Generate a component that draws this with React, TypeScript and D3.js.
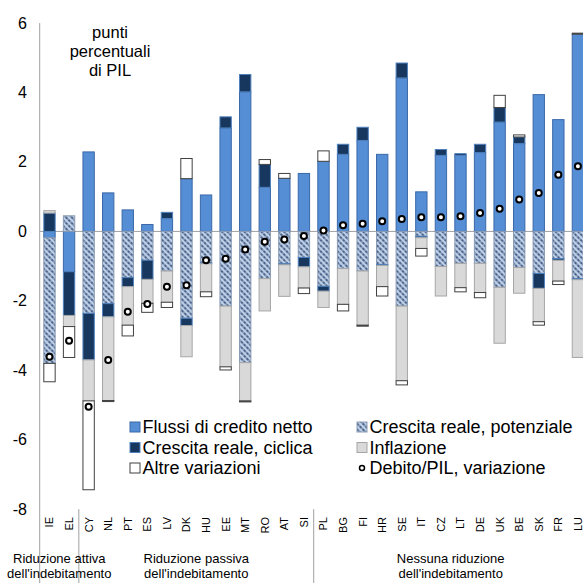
import React from "react";
import * as d3 from "d3";

const countries = ["IE","EL","CY","NL","PT","ES","LV","DK","HU","EE","MT","RO","AT","SI","PL","BG","FI","HR","SE","IT","CZ","LT","DE","UK","BE","SK","FR","LU"];
const flussi =     [-0.18,-1.16, 2.29, 1.11, 0.62, 0.20, 0.37, 1.52, 1.05, 2.98, 4.02, 1.27, 1.53, 1.67, 2.02, 2.22, 2.62, 2.22, 4.42, 1.14, 2.19, 2.19, 2.27, 3.15, 2.53, 3.94, 3.22, 5.68];
const potenziale = [-3.62, 0.45,-2.36,-2.08,-1.33,-0.83,-1.14,-2.50,-0.90,-2.15,-3.78,-1.36,-0.93,-0.75,-1.58,-1.07,-1.14,-0.95,-2.15,-0.14,-1.01,-0.92,-0.92,-1.61,-1.04,-1.21,-0.78,-1.36];
const ciclica =    [ 0.53,-1.26,-1.34,-0.38,-0.26,-0.55, 0.18,-0.21,-0.03, 0.32, 0.50, 0.66,-0.03,-0.27,-0.14, 0.29, 0.38,-0.03, 0.43,-0.04, 0.17, 0.05, 0.24, 0.42, 0.19,-0.43,-0.05,-0.03];
const inflazione = [ 0.07,-0.32,-1.18,-2.41,-1.11,-0.69,-0.90,-0.90,-0.81,-1.75,-1.10,-0.93,-0.91,-0.61,-0.47,-1.03,-1.56,-0.61,-2.15,-0.31,-0.85,-0.70,-0.84,-1.61,-0.74,-0.96,-0.60,-2.24];
const altre =      [-0.53,-0.89,-2.56,-0.03,-0.31,-0.26,-0.15, 0.58,-0.14,-0.09,-0.03, 0.14, 0.14,-0.16, 0.30,-0.19,-0.03,-0.27,-0.12,-0.22, 0.00,-0.12,-0.15, 0.35, 0.06,-0.10,-0.10, 0.03];
const debito =     [-3.61,-3.15,-5.05,-3.70,-2.31,-2.09,-1.59,-1.55,-0.83,-0.79,-0.52,-0.30,-0.23,-0.13, 0.03, 0.18, 0.22, 0.29, 0.36, 0.41, 0.41, 0.44, 0.53, 0.65, 0.92, 1.11, 1.63, 1.88];

const yTicks = [6, 4, 2, 0, -2, -4, -6, -8];
const groups = [
  { from: "IE", to: "EL", lines: ["Riduzione attiva", "dell'indebitamento"] },
  { from: "CY", to: "SI", lines: ["Riduzione passiva", "dell'indebitamento"] },
  { from: "PL", to: "LU", lines: ["Nessuna riduzione", "dell'indebitamento"] },
];
const seriesKeys = ["flussi", "potenziale", "ciclica", "inflazione", "altre"];
const legendLabels = {
  flussi: "Flussi di credito netto",
  potenziale: "Crescita reale, potenziale",
  ciclica: "Crescita reale, ciclica",
  inflazione: "Inflazione",
  altre: "Altre variazioni",
  debito: "Debito/PIL, variazione",
};
const unitLines = ["punti", "percentuali", "di PIL"];

const styles: Record<string, { fill: string; stroke: string }> = {
  flussi: { fill: "#558ED5", stroke: "#3A68A8" },
  potenziale: { fill: "url(#hatch)", stroke: "#8A9BB3" },
  ciclica: { fill: "#17375E", stroke: "#4F81BD" },
  inflazione: { fill: "#D9D9D9", stroke: "#A6A6A6" },
  altre: { fill: "#FFFFFF", stroke: "#404040" },
};

const W = 583, H = 583;
const FONT = "'Liberation Sans', Arial, sans-serif";

export default function App() {
  const rows = countries.map((c, i) => ({
    country: c,
    flussi: flussi[i],
    potenziale: potenziale[i],
    ciclica: ciclica[i],
    inflazione: inflazione[i],
    altre: altre[i],
  }));
  const x = d3.scaleBand().domain(countries).range([39.7, 587.7]).paddingInner(0.42).paddingOuter(0.21);
  const y = d3.scaleLinear().domain([-8, 6]).range([509.2, 23.1]);
  const stacked = d3.stack<any>().keys(seriesKeys).offset(d3.stackOffsetDiverging)(rows);
  const bw = x.bandwidth();
  const cx = (c: string) => (x(c) as number) + bw / 2;
  const step = x.step();

  const legendItems = [
    { key: "flussi", lx: 130, ly: 427 },
    { key: "potenziale", lx: 357, ly: 427 },
    { key: "ciclica", lx: 130, ly: 447.5 },
    { key: "inflazione", lx: 357, ly: 447.5 },
    { key: "altre", lx: 130, ly: 468 },
    { key: "debito", lx: 357, ly: 468 },
  ];

  return (
    <svg width={W} height={H} style={{ position: "absolute", left: 0, top: 0, background: "#fff" }} fontFamily={FONT}>
      <defs>
        <pattern id="hatch" width="4" height="4" patternUnits="userSpaceOnUse" patternTransform="rotate(-45)">
          <rect width="4" height="4" fill="#BED0E8" />
          <line x1="1" y1="0" x2="1" y2="4" stroke="#1F3864" strokeWidth="1.4" strokeDasharray="2.5 1" />
        </pattern>
      </defs>

      {/* axes */}
      <line x1={39.7} x2={39.7} y1={y(6)} y2={H} stroke="#A0A0A0" strokeWidth={1} />
      <line x1={39.7} x2={W} y1={y(0)} y2={y(0)} stroke="#A0A0A0" strokeWidth={1} />
      {[1.5, 13.5].map((k) => (
        <line key={k} x1={cx(countries[0]) + k * step} x2={cx(countries[0]) + k * step} y1={y(-8)} y2={H} stroke="#A0A0A0" strokeWidth={1} />
      ))}

      {/* y tick labels */}
      {yTicks.map((t) => (
        <text key={t} x={27} y={y(t)} textAnchor="end" dominantBaseline="central" fontSize={16} fill="#000">
          {t}
        </text>
      ))}

      {/* bars */}
      {stacked.map((s) => (
        <g key={s.key}>
          {s.map((d: any, i: number) => {
            const y0 = y(d[0]);
            const y1 = y(d[1]);
            const top = Math.min(y0, y1);
            const h = Math.abs(y1 - y0);
            if (h < 0.01) return null;
            return (
              <rect
                key={i}
                x={x(countries[i]) as number}
                y={top}
                width={bw}
                height={h}
                fill={styles[s.key].fill}
                stroke={styles[s.key].stroke}
                strokeWidth={1}
              />
            );
          })}
        </g>
      ))}

      {/* dots */}
      {countries.map((c, i) => (
        <circle key={c} cx={cx(c)} cy={y(debito[i])} r={3} fill="#fff" stroke="#000" strokeWidth={2} />
      ))}

      {/* unit label */}
      {unitLines.map((l, i) => (
        <text key={l} x={110} y={31.7 + i * 19.3} textAnchor="middle" dominantBaseline="central" fontSize={16.5} fill="#000">
          {l}
        </text>
      ))}

      {/* legend */}
      {legendItems.map((it) => (
        <g key={it.key}>
          {it.key === "debito" ? (
            <circle cx={it.lx + 5} cy={it.ly} r={2.5} fill="#fff" stroke="#000" strokeWidth={1.5} />
          ) : (
            <rect x={it.lx} y={it.ly - 5} width={10} height={10} fill={styles[it.key].fill} stroke={styles[it.key].stroke} strokeWidth={1} />
          )}
          <text x={it.lx + 12.5} y={it.ly} dominantBaseline="central" fontSize={18} fill="#000">
            {(legendLabels as any)[it.key]}
          </text>
        </g>
      ))}

      {/* country labels */}
      {countries.map((c) => (
        <text
          key={c}
          transform={`translate(${cx(c)},${517}) rotate(-90)`}
          textAnchor="end"
          dominantBaseline="central"
          fontSize={11}
          fill="#000"
        >
          {c}
        </text>
      ))}

      {/* group labels */}
      {groups.map((g) => {
        const mid = (cx(g.from) + cx(g.to)) / 2;
        return (
          <text key={g.from} x={mid} textAnchor="middle" fontSize={13} fill="#000">
            {g.lines.map((l, i) => (
              <tspan key={i} x={mid} y={563 + i * 14.5}>
                {l}
              </tspan>
            ))}
          </text>
        );
      })}
    </svg>
  );
}
